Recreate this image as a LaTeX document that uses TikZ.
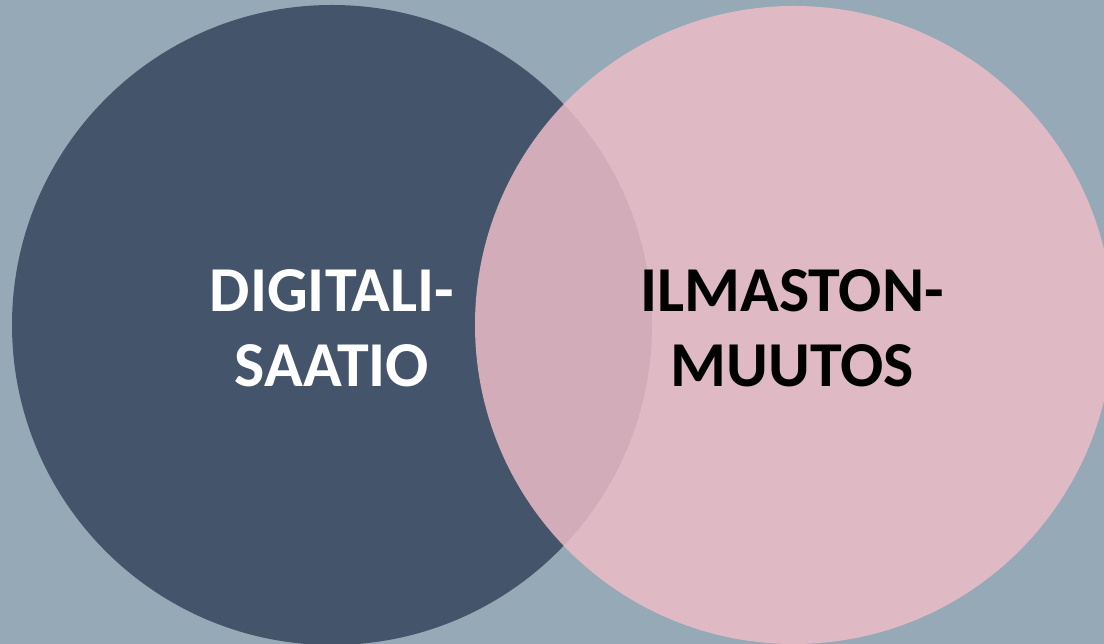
\documentclass[tikz,border=0pt]{standalone}
\usepackage{fontspec}
\setmainfont{Carlito}
\definecolor{bgblue}{HTML}{95AAB6}
\definecolor{navy}{HTML}{44546A}
\definecolor{rose}{HTML}{EFBEC9}
\begin{document}
\begin{tikzpicture}[x=1pt,y=1pt,
  label text/.style={align=center,inner sep=0pt,font=\fontsize{64}{75}\selectfont\bfseries}]
\fill[bgblue] (0,0) rectangle (1104,644);
\useasboundingbox (0,0) rectangle (1104,644);
\fill[navy] (332,319) circle (320);
\fill[rose,fill opacity=.83] (794,319) circle (319);
\node[label text,white] (digi) at (332,316) {DIGITALI-\\SAATIO};
\node[label text,black] (ilma) at (792,316) {ILMASTON-\\MUUTOS};
\end{tikzpicture}
\end{document}
